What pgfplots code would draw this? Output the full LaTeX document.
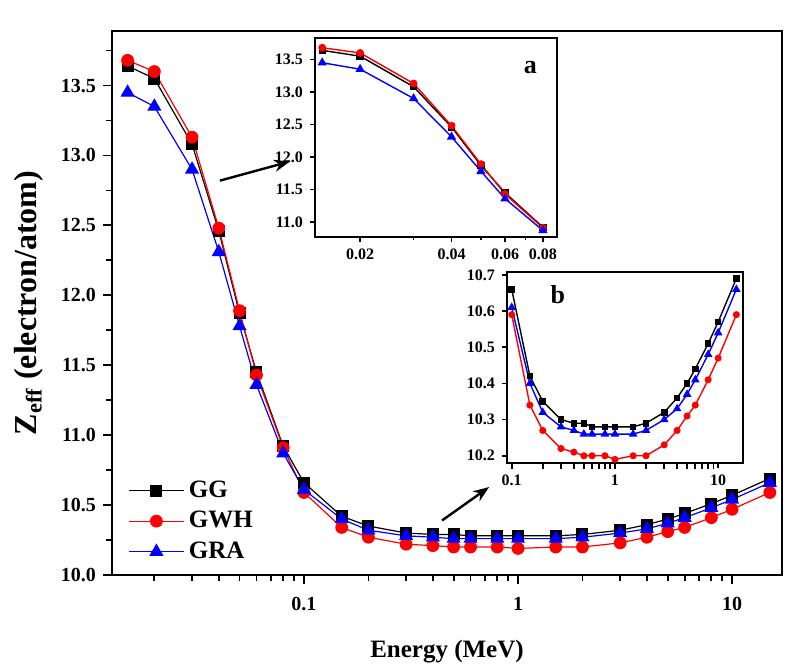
\documentclass[border=0pt]{standalone}
\usepackage{fontspec}
\setmainfont{Liberation Serif}
\usepackage{pgfplots}
\pgfplotsset{compat=1.18}
\usepackage{pgfplotstable}
\usetikzlibrary{arrows.meta}

\pgfplotstableread{
E GG GWH GRA
0.015 13.64 13.68 13.45
0.02 13.55 13.60 13.35
0.03 13.08 13.13 12.90
0.04 12.46 12.48 12.31
0.05 11.87 11.89 11.78
0.06 11.45 11.43 11.36
0.08 10.92 10.91 10.87
0.1 10.66 10.59 10.61
0.15 10.42 10.34 10.40
0.2 10.35 10.27 10.32
0.3 10.30 10.22 10.28
0.4 10.29 10.21 10.27
0.5 10.29 10.20 10.26
0.6 10.28 10.20 10.26
0.8 10.28 10.20 10.26
1 10.28 10.19 10.26
1.5 10.28 10.20 10.26
2 10.29 10.20 10.27
3 10.32 10.23 10.30
4 10.36 10.27 10.33
5 10.40 10.31 10.37
6 10.44 10.34 10.41
8 10.51 10.41 10.48
10 10.57 10.47 10.54
15 10.69 10.59 10.66
}\fulldata

\pgfplotstableread{
E GG GWH GRA
0.015 13.64 13.68 13.45
0.02 13.55 13.60 13.35
0.03 13.08 13.13 12.90
0.04 12.46 12.48 12.31
0.05 11.87 11.89 11.78
0.06 11.45 11.43 11.36
0.08 10.92 10.91 10.87
}\lowdata

\pgfplotstableread{
E GG GWH GRA
0.1 10.66 10.59 10.61
0.15 10.42 10.34 10.40
0.2 10.35 10.27 10.32
0.3 10.30 10.22 10.28
0.4 10.29 10.21 10.27
0.5 10.29 10.20 10.26
0.6 10.28 10.20 10.26
0.8 10.28 10.20 10.26
1 10.28 10.19 10.26
1.5 10.28 10.20 10.26
2 10.29 10.20 10.27
3 10.32 10.23 10.30
4 10.36 10.27 10.33
5 10.40 10.31 10.37
6 10.44 10.34 10.41
8 10.51 10.41 10.48
10 10.57 10.47 10.54
15 10.69 10.59 10.66
}\highdata

\begin{document}
\begin{tikzpicture}
\useasboundingbox (-56pt,-44.5pt) rectangle (340.5pt,287.5pt);
\begin{axis}[
  scale only axis, xmode=log,
  axis line style={line width=1.1pt},
  tick align=outside, xtick pos=left, ytick pos=left,
  tick style={black, line width=0.9pt},
  /pgf/number format/assume math mode=true,
  name=main, at={(0pt,0pt)}, anchor=south west,
  width=335pt, height=272pt,
  xmin=0.01268, xmax=17.1, ymin=10, ymax=13.89,
  xtick={0.1,1,10}, xticklabels={0.1,1,10},
  minor xtick={0.02,0.03,0.04,0.05,0.06,0.07,0.08,0.09,0.2,0.3,0.4,0.5,0.6,0.7,0.8,0.9,2,3,4,5,6,7,8,9},
  ytick={10,10.5,...,13.5},
  minor ytick={10.25,10.75,11.25,11.75,12.25,12.75,13.25,13.75},
  major tick length=4.5pt, minor tick length=3pt,
  yticklabel style={/pgf/number format/.cd, fixed, fixed zerofill, precision=1},
  tick label style={font=\bfseries\fontsize{10}{12}\selectfont},
  xticklabel style={yshift=-3pt},
  xlabel={\textbf{Energy (MeV)}},
  ylabel={\textbf{Z}\textsubscript{\textbf{eff}} \textbf{(electron/atom)}},
  xlabel style={font=\bfseries\fontsize{12.5}{14}\selectfont, yshift=-8pt},
  ylabel style={font=\bfseries\fontsize{16}{18}\selectfont, yshift=2pt},
  legend cell align=left,
  legend style={draw=none, fill=none, inner sep=0pt, at={(0.024,0.099)}, anchor=west,
    font=\bfseries\fontsize{12.5}{14}\selectfont, row sep=1.5pt},
  legend image code/.code={\draw[mark repeat=2,mark phase=2,#1] plot coordinates {(0cm,0cm) (0.48cm,0cm) (0.97cm,0cm)};},
]
\addplot[black, line width=0.6pt, mark=square*, mark size=2.7pt] table[x=E,y=GG] {\fulldata};
\addlegendentry{GG}
\addplot[red, line width=0.6pt, mark=*, mark size=2.9pt] table[x=E,y=GWH] {\fulldata};
\addlegendentry{GWH}
\addplot[blue, line width=0.6pt, mark=triangle*, mark size=3.5pt] table[x=E,y=GRA] {\fulldata};
\addlegendentry{GRA}
\draw[-{Stealth[length=8pt,width=6pt]}, line width=1.2pt] (axis cs:0.0405,12.82) -- (axis cs:0.0861,12.957);
\draw[-{Stealth[length=8pt,width=6pt]}, line width=1.2pt] (axis cs:0.4416,10.39) -- (axis cs:0.733,10.629);
\end{axis}

\begin{axis}[
  scale only axis, xmode=log,
  axis line style={line width=1pt},
  tick align=outside, xtick pos=left, ytick pos=left,
  tick style={black, line width=0.8pt},
  /pgf/number format/assume math mode=true,
  axis background/.style={fill=white},
  at={(101.5pt,169pt)}, anchor=south west,
  width=121pt, height=99.5pt,
  xmin=0.0142, xmax=0.089, ymin=10.77, ymax=13.83,
  xtick={0.02,0.04,0.06,0.08}, xticklabels={0.02,0.04,0.06,0.08},
  minor xtick={0.03,0.05,0.07},
  ytick={11,11.5,...,13.5},
  major tick length=2.5pt, minor tick length=1.5pt,
  yticklabel style={/pgf/number format/.cd, fixed, fixed zerofill, precision=1},
  tick label style={font=\bfseries\fontsize{8}{9}\selectfont},
]
\addplot[black, line width=0.7pt, mark=square*, mark size=1.5pt] table[x=E,y=GG] {\lowdata};
\addplot[red, line width=0.7pt, mark=*, mark size=1.6pt] table[x=E,y=GWH] {\lowdata};
\addplot[blue, line width=0.7pt, mark=triangle*, mark size=2pt] table[x=E,y=GRA] {\lowdata};
\node[font=\bfseries\fontsize{13}{15}\selectfont] at (rel axis cs:0.89,0.85) {a};
\end{axis}

\begin{axis}[
  scale only axis, xmode=log,
  axis line style={line width=1pt},
  tick align=outside, xtick pos=left, ytick pos=left,
  tick style={black, line width=0.8pt},
  /pgf/number format/assume math mode=true,
  axis background/.style={fill=white},
  at={(197.5pt,56pt)}, anchor=south west,
  width=118pt, height=95.5pt,
  xmin=0.09, xmax=17.4, ymin=10.18, ymax=10.708,
  xtick={0.1,1,10}, xticklabels={0.1,1,10},
  ytick={10.2,10.3,10.4,10.5,10.6,10.7},
  major tick length=2.5pt,
  yticklabel style={/pgf/number format/.cd, fixed, fixed zerofill, precision=1},
  tick label style={font=\bfseries\fontsize{8}{9}\selectfont},
]
\addplot[black, line width=0.7pt, mark=square*, mark size=1.3pt] table[x=E,y=GG] {\highdata};
\addplot[red, line width=0.7pt, mark=*, mark size=1.4pt] table[x=E,y=GWH] {\highdata};
\addplot[blue, line width=0.7pt, mark=triangle*, mark size=1.8pt] table[x=E,y=GRA] {\highdata};
\node[font=\bfseries\fontsize{13}{15}\selectfont] at (rel axis cs:0.216,0.88) {b};
\end{axis}
\end{tikzpicture}
\end{document}
